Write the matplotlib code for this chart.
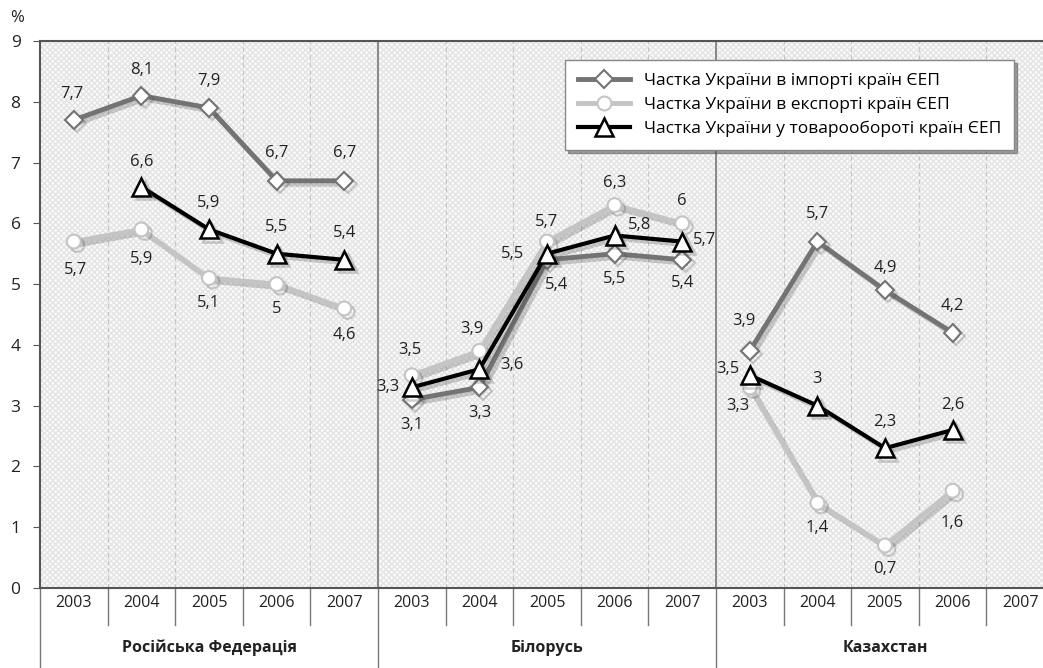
import matplotlib
matplotlib.use("Agg")
import matplotlib.pyplot as plt
import matplotlib.patheffects as pe
from matplotlib.patches import Rectangle
from matplotlib.transforms import blended_transform_factory

plt.rcParams['font.family'] = ['Open Sans', 'DejaVu Sans']
plt.rcParams['hatch.linewidth'] = 1.0

# categories: 3 countries x 5 years
GROUPS = ["Російська Федерація", "Білорусь", "Казахстан"]
YEARS = ["2003", "2004", "2005", "2006", "2007"]

# values per country (None = no data)
IMPORT = [[7.7, 8.1, 7.9, 6.7, 6.7],
          [3.1, 3.3, 5.4, 5.5, 5.4],
          [3.9, 5.7, 4.9, 4.2, None]]
EXPORT = [[5.7, 5.9, 5.1, 5.0, 4.6],
          [3.5, 3.9, 5.7, 6.3, 6.0],
          [3.3, 1.4, 0.7, 1.6, None]]
TRADE = [[None, 6.6, 5.9, 5.5, 5.4],
         [3.3, 3.6, 5.5, 5.8, 5.7],
         [3.5, 3.0, 2.3, 2.6, None]]

LABELS = ["Частка України в імпорті країн ЄЕП",
          "Частка України в експорті країн ЄЕП",
          "Частка України у товарообороті країн ЄЕП"]

# label offsets in pixels (dx, dy)
IMPORT_OFF = [[(-2, 26), (0, 26), (0, 27), (0, 28), (0, 28)],
              [(0, -25), (0, -26), (10, -25), (0, -25), (0, -23)],
              [(-6, 30), (0, 28), (0, 22), (0, 27), None]]
EXPORT_OFF = [[(2, -28), (0, -30), (0, -25), (0, -25), (0, -27)],
              [(-2, 25), (-8, 22), (0, 20), (0, 22), (0, 22)],
              [(-12, -19), (0, -25), (0, -24), (0, -32), None]]
TRADE_OFF = [[None, (0, 25), (0, 26), (0, 27), (0, 27)],
             [(-24, 0), (33, 4), (-34, 0), (25, 10), (22, 2)],
             [(-22, 6), (0, 27), (0, 26), (0, 25), None]]

fig = plt.figure(figsize=(10.43, 6.68), dpi=100)
W, H = 1043, 668
ax = fig.add_axes([40 / W, (H - 588) / H, 1014 / W, 547 / H])
ax.set_xlim(0, 15)
ax.set_ylim(0, 9)

# hatched background
ax.add_patch(Rectangle((0, 0), 1, 1, transform=ax.transAxes, facecolor='#fbfbfb',
                       edgecolor='#e4e4e4', hatch='xxxxxx', linewidth=0, zorder=0))

# vertical separators inside plot
for b in range(1, 15):
    if b % 5 == 0:
        ax.axvline(b, color='#777777', lw=1.2, zorder=1)
    else:
        ax.axvline(b, color='#c4c4c4', lw=0.8, ls=(0, (4, 3)), zorder=1)

shadow = [pe.SimpleLineShadow(offset=(2.5, -2.5), shadow_color='#444444', alpha=0.25),
          pe.Normal()]

styles = [
    (IMPORT, IMPORT_OFF, dict(color='#737373', lw=3.5, marker='D', ms=9, mfc='white', mec='#737373', mew=1.5)),
    (EXPORT, EXPORT_OFF, dict(color='#c4c4c4', lw=3.5, marker='o', ms=10, mfc='white', mec='#c4c4c4', mew=1.5)),
    (TRADE, TRADE_OFF, dict(color='black', lw=3.0, marker='^', ms=13, mfc='white', mec='black', mew=1.8)),
]

handles = []
for k, (series, offs, st) in enumerate(styles):
    for g in range(3):
        xs, ys = [], []
        for i, v in enumerate(series[g]):
            if v is None:
                continue
            xs.append(g * 5 + i + 0.5)
            ys.append(v)
            dx, dy = offs[g][i]
            ax.annotate(f"{v:g}".replace('.', ','), (g * 5 + i + 0.5, v), xytext=(dx, dy),
                        textcoords='offset pixels', ha='center', va='center',
                        fontsize=12, color='#222222', zorder=6)
        line, = ax.plot(xs, ys, zorder=3 + k, path_effects=shadow, **st)
    handles.append(line)

# axes styling
ax.spines['right'].set_visible(False)
for s in ['top', 'left', 'bottom']:
    ax.spines[s].set_color('#555555')
    ax.spines[s].set_linewidth(1.5)
ax.set_yticks(range(10))
ax.tick_params(axis='y', direction='out', length=5, color='#555555', labelsize=12.5,
               labelcolor='#222222', pad=9)
ax.set_xticks([])

# category axis below
tr = blended_transform_factory(ax.transData, ax.transAxes)
for g, name in enumerate(GROUPS):
    for i, yr in enumerate(YEARS):
        ax.text(g * 5 + i + 0.5, -0.028, yr, transform=tr, ha='center', va='center',
                fontsize=11.5, color='#222222')
    ax.text(g * 5 + 2.5, -0.11, name, transform=tr, ha='center', va='center',
            fontsize=11.5, fontweight='bold', color='#222222')
for b in range(0, 16):
    y0 = -0.15 if b % 5 == 0 else -0.068
    ax.plot([b, b], [0, y0], transform=tr, color='#777777', lw=1.0, clip_on=False)

fig.text(17 / W, 1 - 18 / H, '%', ha='center', va='center', fontsize=12, color='#222222')

leg = fig.legend(handles, LABELS, loc='upper left', bbox_to_anchor=(565 / W, 1 - 60 / H),
                 fontsize=12.5, frameon=True, fancybox=False, shadow=True, handlelength=3.0,
                 borderpad=0.75, labelspacing=0.45, framealpha=1, borderaxespad=0)
leg.get_frame().set_edgecolor('#888888')
leg.get_frame().set_linewidth(1.0)
for h in leg.legend_handles:
    h.set_path_effects([])

fig.savefig("out.png", dpi=100)
